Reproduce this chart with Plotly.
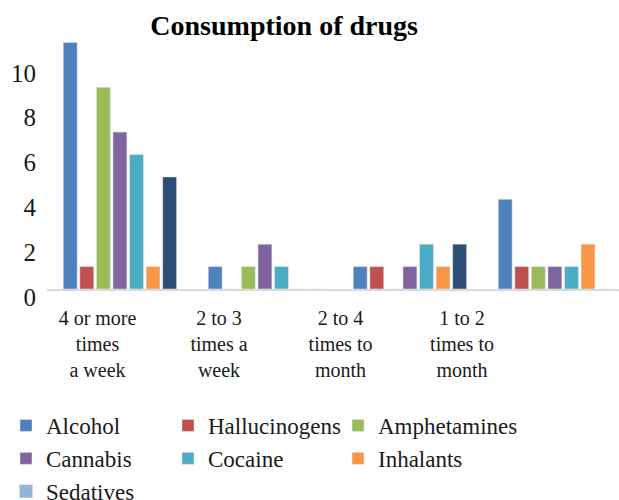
import plotly.graph_objects as go

categories = ["4 or more<br>times<br>a week", "2 to 3<br>times a<br>week",
              "2 to 4<br>times to<br>month", "1 to 2<br>times to<br>month"]
series_names = ["Alcohol", "Hallucinogens", "Amphetamines", "Cannabis",
                "Cocaine", "Inhalants", "Sedatives"]
alcohol = [11, 1, 1, 4]
hallucinogens = [1, 0, 1, 1]
amphetamines = [9, 1, 0, 1]
cannabis = [7, 2, 1, 1]
cocaine = [6, 1, 2, 1]
inhalants = [1, 0, 1, 2]
sedatives = [5, 0, 2, 0]
y_ticks = [0, 2, 4, 6, 8, 10]

series_values = [alcohol, hallucinogens, amphetamines, cannabis, cocaine, inhalants, sedatives]
bar_colors = ["#4F81BD", "#C0504D", "#9BBB59", "#8064A2", "#4BACC6", "#F79646", "#2C4D75"]
legend_colors = ["#4F81BD", "#C0504D", "#9BBB59", "#8064A2", "#4BACC6", "#F79646", "#95B3D7"]

FONT = "Liberation Serif"
idx = list(range(len(categories)))
legend_ids = ["legend", "legend2", "legend3"]

fig = go.Figure()
for i, (name, vals) in enumerate(zip(series_names, series_values)):
    same = bar_colors[i] == legend_colors[i]
    leg = legend_ids[i % 3]
    fig.add_trace(go.Bar(x=idx, y=vals, name=name, marker_color=bar_colors[i],
                         showlegend=same, legendrank=i + 1, legend=leg))
    if not same:
        fig.add_trace(go.Scatter(x=[None], y=[None], name=name, mode="markers",
                                 xaxis="x2", legendrank=i + 1, legend=leg,
                                 marker=dict(symbol="square", size=13, color=legend_colors[i])))

legend_style = dict(orientation="v", xref="container", xanchor="left",
                    y=1 - 404 / 500, yref="container", yanchor="top",
                    traceorder="normal", bgcolor="rgba(0,0,0,0)",
                    font=dict(family=FONT, size=23, color="#1a1a1a"),
                    itemwidth=30, tracegroupgap=0)

fig.update_layout(
    width=619, height=500,
    margin=dict(l=47, r=0, t=38, b=211, autoexpand=False),
    paper_bgcolor="white", plot_bgcolor="white",
    barmode="group", bargap=0.2, bargroupgap=0.16,
    font=dict(family=FONT, size=20, color="#1a1a1a"),
    title=dict(text="Consumption of drugs", x=0.459, xref="container", xanchor="center",
               y=1 - 25 / 500, yref="container", yanchor="middle",
               font=dict(family=FONT, size=28, color="black", weight="bold")),
    xaxis=dict(range=[-0.503, 3.442], showticklabels=False, showgrid=False, zeroline=False,
               showline=True, linecolor="#D9D9D9", linewidth=1.5, ticks=""),
    xaxis2=dict(overlaying="x", anchor="y", side="bottom", range=[-0.4156, 4.292],
                tickmode="array", tickvals=idx, ticktext=categories,
                showgrid=False, zeroline=False, showline=False, ticks="",
                ticklabelstandoff=15, tickfont=dict(family=FONT, size=20, color="#1a1a1a")),
    yaxis=dict(range=[0, 11.2], tickmode="array", tickvals=y_ticks, showgrid=False,
               zeroline=False, showline=False, ticks="", ticklabelstandoff=10,
               ticklabelshift=8, tickfont=dict(family=FONT, size=25, color="#1a1a1a")),
    legend=dict(x=6 / 619, **legend_style),
    legend2=dict(x=168 / 619, **legend_style),
    legend3=dict(x=338 / 619, **legend_style),
)

fig.write_html("out.html")
